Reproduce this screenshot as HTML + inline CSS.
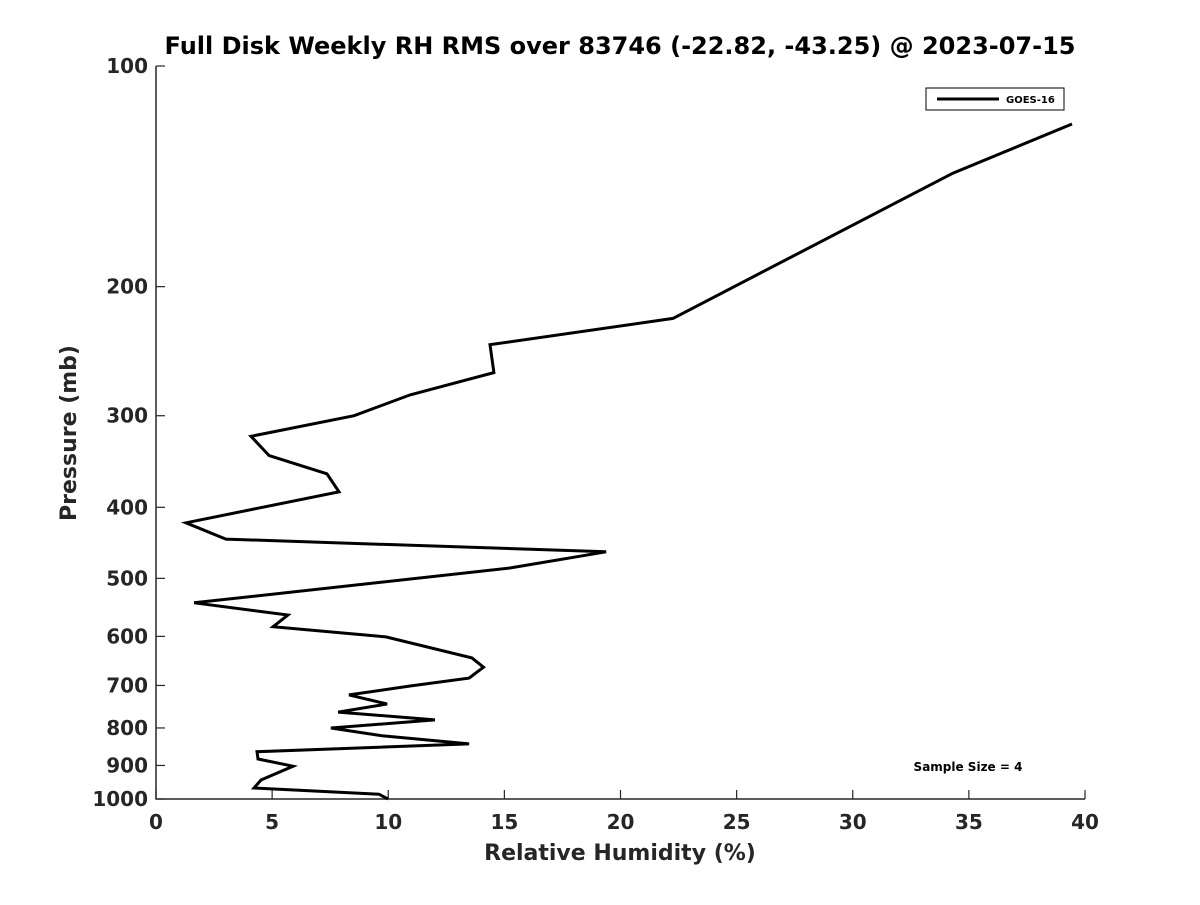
<!DOCTYPE html>
<html><head><meta charset="utf-8"><style>
body{margin:0;background:#fff}
svg text{font-family:"DejaVu Sans","Liberation Sans",sans-serif;font-weight:bold;fill:#262626}
</style></head><body>
<svg width="1200" height="900" xmlns="http://www.w3.org/2000/svg">
<rect width="1200" height="900" fill="#fff"/>
<text x="620" y="54" text-anchor="middle" font-size="24" style="fill:#000">Full Disk Weekly RH RMS over 83746 (-22.82, -43.25) @ 2023-07-15</text>
<g id="axes"></g>
<path id="series" fill="none" stroke="#000" stroke-width="3" stroke-linejoin="miter"/>
<g>
<rect x="926" y="88" width="138" height="22" fill="#fff" stroke="#000" stroke-width="1"/>
<line x1="937" y1="99" x2="999" y2="99" stroke="#000" stroke-width="3"/>
<text x="1006" y="103" font-size="10" style="fill:#000">GOES-16</text>
</g>
<text x="968" y="771" text-anchor="middle" font-size="12" style="fill:#000">Sample Size = 4</text>
<text x="620" y="860" text-anchor="middle" font-size="22">Relative Humidity (%)</text>
<text x="0" y="0" transform="translate(76,433) rotate(-90)" text-anchor="middle" font-size="22">Pressure (mb)</text>
</svg>
<script>
const rhValues=[39.44,34.32,22.26,14.38,14.55,10.94,8.53,4.09,4.87,7.36,7.88,1.29,3.01,19.38,15.24,1.64,5.68,5.04,9.90,13.6,14.1,13.48,10.98,8.31,9.95,7.84,12.01,7.53,9.73,13.48,4.35,4.39,5.9,4.52,4.22,9.6,9.99];
const pressures=[120,140,221,240,262,281,300,320,340,360,381,420,442,460,484,540,561,582,601,642,661,684,701,721,742,761,780,800,820,841,862,882,902,942,966,985,1000];
const xTicks=[0,5,10,15,20,25,30,35,40];
const yTicks=[100,200,300,400,500,600,700,800,900,1000];
const X0=156,X1=1085,Y0=66,Y1=799;
const xs=v=>X0+(v-0)/(40-0)*(X1-X0);
const ys=p=>Y0+Math.log10(p/100)*(Y1-Y0);
const NS="http://www.w3.org/2000/svg";
const ax=document.getElementById('axes');
function mk(t,a,parent){const e=document.createElementNS(NS,t);for(const k in a)e.setAttribute(k,a[k]);(parent||ax).appendChild(e);return e;}
let sp=mk('path',{d:`M${X0},${Y0}V${Y1}H${X1}`,fill:'none',stroke:'#262626','stroke-width':1.5});


xTicks.forEach(v=>{
 const l=mk('line',{x1:xs(v),x2:xs(v),y1:Y1,y2:Y1-9,stroke:'#262626','stroke-width':1.2});
 
 
 const t=mk('text',{x:xs(v),y:Y1+30,'text-anchor':'middle','font-size':20});
 t.textContent=v;
 
 
});
yTicks.forEach(p=>{
 const l=mk('line',{x1:X0,x2:X0+9,y1:ys(p),y2:ys(p),stroke:'#262626','stroke-width':1.2});
 
 
 const t=mk('text',{x:X0-8,y:ys(p)+7,'text-anchor':'end','font-size':20});
 t.textContent=p;
 
 
});
document.getElementById('series').setAttribute('d',rhValues.map((v,i)=>(i?'L':'M')+xs(v).toFixed(1)+','+ys(pressures[i]).toFixed(1)).join(''));
</script>
</body></html>
